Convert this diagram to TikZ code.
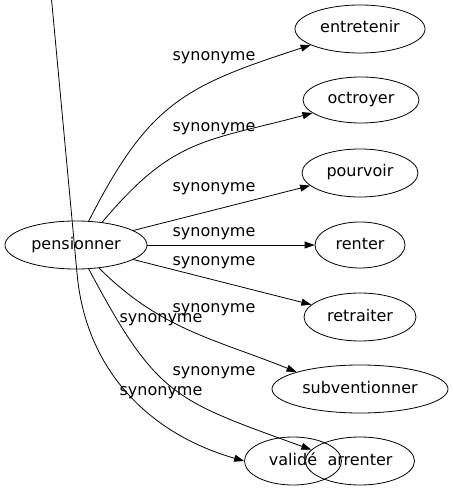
\documentclass[tikz,border=0pt]{standalone}
\usepackage{fontspec}
\setmainfont{DejaVu Sans}
\usetikzlibrary{positioning, shapes.geometric, arrows.meta}
\tikzstyle{Arrow} = [
line width=0.8bp,
-{Triangle[length=10bp, width=7bp]}]
\tikzstyle{Word} = [
ellipse, draw, line width=0.8bp, inner sep=0pt,
minimum height=48bp, text height=11.5bp, text depth=3.5bp,
font=\fontsize{16bp}{19bp}\selectfont]
\tikzstyle{Rel} = [inner sep=0pt, font=\fontsize{16bp}{19bp}\selectfont]

\begin{document}
\begin{tikzpicture}[x=1bp, y=1bp]
    \useasboundingbox (0,0) rectangle (453,-491);
    \node [Word, minimum width=142bp] (pensionner) at (76,-245) {pensionner};
    \node [Word, minimum width=130bp] (entretenir) at (360,-29) {entretenir};
    \node [Word, minimum width=116bp, minimum height=46bp] (octroyer) at (361,-100) {octroyer};
    \node [Word, minimum width=116bp] (pourvoir) at (360,-173) {pourvoir};
    \node [Word, minimum width=90bp, minimum height=46bp] (renter) at (360,-245) {renter};
    \node [Word, minimum width=112bp] (retraiter) at (360,-317) {retraiter};
    \node [Word, minimum width=176bp] (subventionner) at (360,-389) {subventionner};
    \node [Word, minimum width=109bp] (arrenter) at (360,-461) {arrenter};
    \node [Word, minimum width=97bp] (valide) at (293,-461) {validé};
    \coordinate (top) at (51.5,1);
    \coordinate (bend) at (77,-273);
    \node [Rel] (1) at (214,-57.5) {synonyme};
    \node [Rel] (2) at (214,-129) {synonyme};
    \node [Rel] (3) at (214,-189) {synonyme};
    \node [Rel] (4) at (214,-234) {synonyme};
    \node [Rel] (5) at (214,-262.5) {synonyme};
    \node [Rel] (6) at (214,-310) {synonyme};
    \node [Rel] (7) at (161,-319.5) {synonyme};
    \node [Rel] (8) at (214,-372.5) {synonyme};
    \node [Rel] (9) at (161,-392.5) {synonyme};
    \draw[Arrow] (pensionner.62) to [out=63, in=-162, looseness=1.2] (entretenir);
    \draw[Arrow] (pensionner.41) to [out=50, in=-165, looseness=1.2] (octroyer);
    \draw[Arrow] (pensionner) -- (pourvoir);
    \draw[Arrow] (pensionner) -- (renter);
    \draw[Arrow] (pensionner) -- (retraiter);
    \draw[Arrow] (pensionner.-45) to [out=-45, in=158] (subventionner.165);
    \draw[Arrow] (pensionner.-62) to [out=-62, in=160, looseness=1.3] (arrenter.167);
    \draw[Arrow] (top) -- (bend) to [out=-85, in=164] (valide.west);
\end{tikzpicture}
\end{document}
